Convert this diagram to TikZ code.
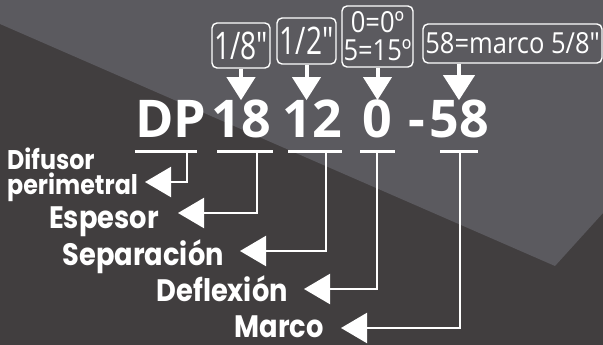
\documentclass[tikz,border=0pt]{standalone}
\usepackage{fontspec}
\usepackage{tikz}
\usetikzlibrary{arrows.meta}
\usetikzlibrary{positioning}
\definecolor{bgdark}{RGB}{65,62,63}
\definecolor{bglight}{RGB}{91,90,95}
\newfontfamily\codefont{Open Sans}
\newfontfamily\boxfont[FakeStretch=0.74]{Open Sans}
\newfontfamily\boxwidefont[FakeStretch=0.88]{Open Sans}
\newfontfamily\lblfont[FakeStretch=0.88]{Poppins}

\begin{document}
\begin{tikzpicture}[x=1pt, y=-1pt,
  valbox/.style={draw=white, line width=1.4pt, rounded corners=5pt, text=white, inner sep=0pt,
    font=\boxfont\fontsize{38}{38}\selectfont},
  code/.style={text=white, inner sep=0pt, anchor=base, font=\codefont\bfseries\fontsize{52}{52}\selectfont},
  lbl/.style={text=white, inner sep=0pt, anchor=base east, font=\lblfont\bfseries\fontsize{31}{31}\selectfont},
  bar/.style={white, line width=3pt},
  downarr/.style={white, line width=4pt, -{Triangle[length=23pt, width=28pt]}},
  lnk/.style={white, line width=2.2pt, -{Triangle[length=26pt, width=30pt]}}]

  \useasboundingbox (0, 0) rectangle (603, 345);
  \fill [bgdark] (0, 0) rectangle (603, 345);
  \fill [bglight] (0, 0) -- (603, 0) -- (603, 213) -- (555, 266) -- (0, 24) -- cycle;

  % value boxes
  \node [valbox, minimum width=58pt, minimum height=45pt] (b18) at (241, 45.5) {1/8″};
  \node [valbox, minimum width=59pt, minimum height=46pt] (b12) at (306.5, 41) {1/2″};
  \node [valbox, minimum width=71pt, minimum height=61pt, align=center,
    font=\boxwidefont\fontsize{29}{28}\selectfont] (b0) at (377.5, 36.5) {0=0º\\5=15º};
  \node [valbox, minimum width=179pt, minimum height=39pt,
    font=\boxwidefont\fontsize{29}{29}\selectfont] (b58) at (512.5, 43.5) {58=marco 5/8″};

  % code
  \node [code] (dp) at (171, 138) {DP};
  \node [code] (n18) at (241, 138) {18};
  \node [code] (n12) at (312.5, 138) {12};
  \node [code] (n0) at (377.5, 138) {0};
  \node [code] (dash) at (416.5, 138) {-};
  \node [code] (n58) at (459, 138) {58};

  \draw [downarr] (b18.south -| n18) -- (n18.north);
  \draw [downarr] (b12.south) -- (b12.south |- n12.north);
  \draw [downarr] (b0.south -| n0) -- (n0.north);
  \draw [downarr, -{Triangle[length=25pt, width=31pt]}] (b58.south -| n58) -- (n58.north);

  % underlines
  \draw [bar] (135, 151) -- (197, 151);
  \draw [bar] (217, 151) -- (273, 151);
  \draw [bar] (288, 151) -- (342, 151);
  \draw [bar] (360, 151) -- (395, 151);
  \draw [bar] (440, 151) -- (478, 151);

  \coordinate (udp) at (187, 151);
  \coordinate (u18) at (257, 151);
  \coordinate (u12) at (326, 151);
  \coordinate (u0) at (377, 151);
  \coordinate (u58) at (460, 151);

  \coordinate (tdp) at (145, 182);
  \coordinate (t18) at (178, 213);
  \coordinate (t12) at (240, 251);
  \coordinate (t0) at (304, 289);
  \coordinate (t58) at (341, 328);

  % labels
  \node [lbl, anchor=north west, align=left, font=\lblfont\bfseries\fontsize{27}{25}\selectfont]
    (difusor) at (7, 148) {Difusor\\perimetral};
  \node [lbl] (espesor) at (159, 228) {Espesor};
  \node [lbl] (separacion) at (224, 265) {Separación};
  \node [lbl] (deflexion) at (288, 301) {Deflexión};
  \node [lbl] (marco) at (324, 337) {Marco};

  \draw [lnk] (udp) |- (tdp);
  \draw [lnk] (u18) |- (t18);
  \draw [lnk] (u12) |- (t12);
  \draw [lnk] (u0) |- (t0);
  \draw [lnk] (u58) |- (t58);
\end{tikzpicture}
\end{document}
